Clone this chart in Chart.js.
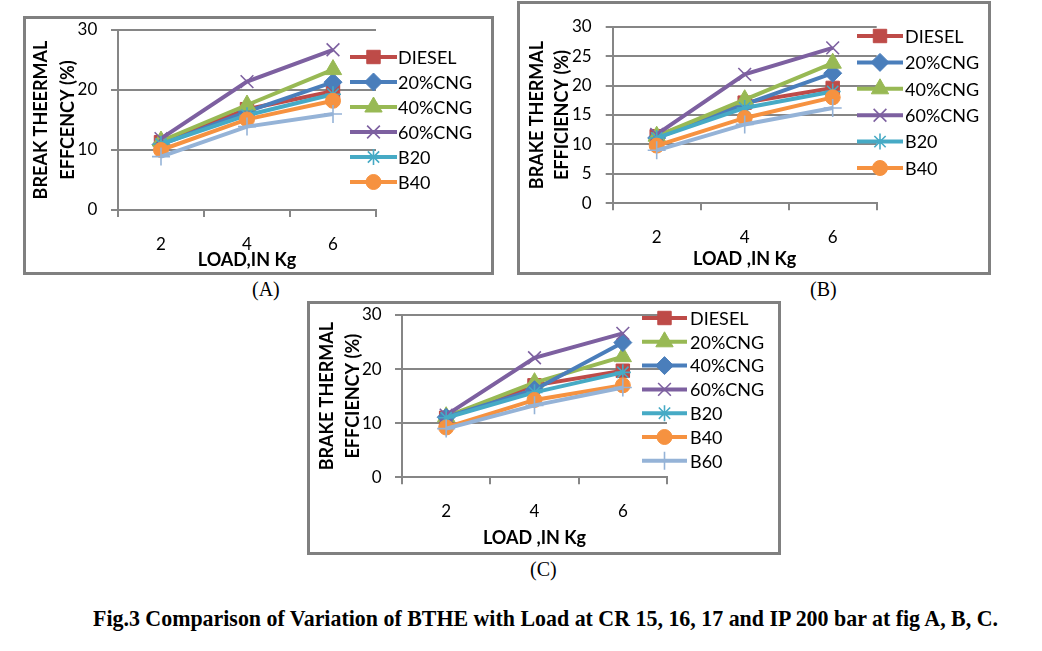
<!DOCTYPE html>
<html><head><meta charset="utf-8">
<script src="https://cdn.jsdelivr.net/npm/chart.js"></script>
<style>
html,body{margin:0;padding:0;background:#fff;}
#page{position:relative;width:1042px;height:651px;overflow:hidden;background:#fff;}
.frame{position:absolute;border:3px solid #808080;box-sizing:border-box;background:#fff;}
.frame canvas{display:block;}
.lab{position:absolute;font-family:"Liberation Serif","DejaVu Serif",serif;font-size:20px;line-height:20px;color:#000;white-space:nowrap;}
#caption{position:absolute;left:93px;top:604px;font-family:"Liberation Serif","DejaVu Serif",serif;font-weight:bold;font-size:24px;line-height:28px;white-space:nowrap;transform-origin:0 0;color:#000;}
</style></head>
<body><div id="page">
<div class="frame" style="left:23px;top:16px;width:471px;height:259px"><canvas id="cA" width="465" height="253"></canvas></div>
<div class="frame" style="left:517px;top:1px;width:474px;height:274px"><canvas id="cB" width="468" height="268"></canvas></div>
<div class="frame" style="left:307px;top:301px;width:474px;height:254px"><canvas id="cC" width="468" height="248"></canvas></div>
<div class="lab" style="left:252px;top:279px">(A)</div>
<div class="lab" style="left:810px;top:279px">(B)</div>
<div class="lab" style="left:530px;top:559px">(C)</div>
<div id="caption">Fig.3 Comparison of Variation of BTHE with Load at CR 15, 16, 17 and IP 200 bar at fig A, B, C.</div>
</div>
<script>
// ---------- data ----------
const loads = ['2', '4', '6'];
const seriesNames = ['DIESEL', '20%CNG', '40%CNG', '60%CNG', 'B20', 'B40', 'B60'];

// Fig A (CR 15)
const dieselA = [11.3, 16.8, 19.8];
const cng20A  = [10.9, 16.4, 21.3];
const cng40A  = [11.5, 17.5, 23.4];
const cng60A  = [11.9, 21.4, 26.7];
const b20A    = [11.0, 15.8, 19.3];
const b40A    = [10.0, 15.1, 18.2];
const b60A    = [8.9, 13.9, 16.0];

// Fig B (CR 16)
const dieselB = [11.4, 17.1, 19.6];
const cng20B  = [11.1, 16.8, 22.1];
const cng40B  = [11.4, 17.6, 23.8];
const cng60B  = [11.7, 21.9, 26.4];
const b20B    = [11.1, 16.2, 19.0];
const b40B    = [9.8, 14.5, 18.0];
const b60B    = [9.0, 13.4, 16.2];

// Fig C (CR 17)
const dieselC = [11.0, 17.0, 19.7];
const cng20C  = [11.2, 17.5, 22.3];
const cng40C  = [11.1, 16.2, 24.9];
const cng60C  = [11.5, 22.1, 26.6];
const b20C    = [11.0, 15.7, 19.4];
const b40C    = [9.2, 14.3, 17.0];
const b60C    = [9.0, 13.3, 16.6];

const yTicksA = [0, 10, 20, 30];
const yTicksB = [0, 5, 10, 15, 20, 25, 30];
const yTicksC = [0, 10, 20, 30];

// ---------- styles ----------
const colorsAB  = ['#BE4B48', '#4A7EBB', '#98B954', '#7D60A0', '#46AAC5', '#F69240', '#95B3D7'];
const markersAB = ['rect', 'rectRot', 'triangle', 'crossRot', 'star', 'circle', 'cross'];
const colorsC   = ['#BE4B48', '#98B954', '#4A7EBB', '#7D60A0', '#46AAC5', '#F69240', '#95B3D7'];
const markersC  = ['rect', 'triangle', 'rectRot', 'crossRot', 'star', 'circle', 'cross'];
const markerR = {rect: 9.5, rectRot: 9, triangle: 10, crossRot: 9, star: 8, circle: 7.5, cross: 9};
const isLineMarker = s => (s === 'cross' || s === 'crossRot' || s === 'star');
const GRAY = '#868686';
const FONT = 'Lato, "Open Sans", "Liberation Sans", sans-serif';

function drawMarker(ctx, style, r, x, y) {
  ctx.beginPath();
  const d = r * Math.SQRT1_2;
  switch (style) {
    case 'circle': ctx.arc(x, y, r, 0, Math.PI * 2); ctx.closePath(); ctx.fill(); ctx.stroke(); break;
    case 'rect': ctx.rect(x - d, y - d, 2 * d, 2 * d); ctx.fill(); ctx.stroke(); break;
    case 'rectRot': ctx.moveTo(x - r, y); ctx.lineTo(x, y - r); ctx.lineTo(x + r, y); ctx.lineTo(x, y + r); ctx.closePath(); ctx.fill(); ctx.stroke(); break;
    case 'triangle':
      for (let k = 0; k < 3; k++) { const a = k * 2 * Math.PI / 3; const px = x + Math.sin(a) * r, py = y - Math.cos(a) * r; k ? ctx.lineTo(px, py) : ctx.moveTo(px, py); }
      ctx.closePath(); ctx.fill(); ctx.stroke(); break;
    case 'cross': ctx.moveTo(x, y - r); ctx.lineTo(x, y + r); ctx.moveTo(x - r, y); ctx.lineTo(x + r, y); ctx.stroke(); break;
    case 'crossRot': ctx.moveTo(x - d, y - d); ctx.lineTo(x + d, y + d); ctx.moveTo(x - d, y + d); ctx.lineTo(x + d, y - d); ctx.stroke(); break;
    case 'star':
      ctx.moveTo(x, y - r); ctx.lineTo(x, y + r); ctx.moveTo(x - r, y); ctx.lineTo(x + r, y);
      ctx.moveTo(x - d, y - d); ctx.lineTo(x + d, y + d); ctx.moveTo(x - d, y + d); ctx.lineTo(x + d, y - d); ctx.stroke(); break;
  }
}

function legendPlugin(cfg) {
  return {
    id: 'customLegend',
    afterDraw(chart) {
      const ctx = chart.ctx;
      ctx.save();
      chart.data.datasets.slice(0, cfg.count).forEach((ds, i) => {
        const y = cfg.y0 + i * cfg.dy;
        ctx.strokeStyle = ds.borderColor; ctx.lineWidth = 4; ctx.lineCap = 'butt';
        ctx.beginPath(); ctx.moveTo(cfg.x0, y); ctx.lineTo(cfg.x0 + cfg.len, y); ctx.stroke();
        ctx.fillStyle = ds.borderColor; ctx.lineWidth = ds.pointBorderWidth;
        drawMarker(ctx, ds.pointStyle, ds.pointRadius, cfg.x0 + cfg.len / 2, y);
        ctx.fillStyle = '#000';
        ctx.font = '18px ' + FONT;
        ctx.textAlign = 'left'; ctx.textBaseline = 'middle';
        ctx.fillText(ds.label, cfg.textX, y + 1);
      });
      ctx.restore();
    }
  };
}

function makeChart(id, series, colors, markers, yTicks, g) {
  const n = series.length;
  const datasets = series.map((vals, i) => ({
    label: seriesNames[i],
    data: vals,
    borderColor: colors[i],
    backgroundColor: colors[i],
    borderWidth: 4,
    pointStyle: markers[i],
    pointRadius: markerR[markers[i]],
    pointHoverRadius: markerR[markers[i]],
    pointBackgroundColor: colors[i],
    pointBorderColor: colors[i],
    pointBorderWidth: isLineMarker(markers[i]) ? 1.6 : 1,
    tension: 0,
    fill: false,
    order: n - i
  }));
  return new Chart(document.getElementById(id), {
    type: 'line',
    data: {labels: loads, datasets},
    options: {
      responsive: false, animation: false, devicePixelRatio: 1, events: [],
      layout: {padding: {left: 0, top: g.top, right: g.right, bottom: 0}},
      plugins: {legend: {display: false}, tooltip: {enabled: false}},
      scales: {
        x: {
          type: 'category', offset: true,
          grid: {display: true, offset: true, drawOnChartArea: false, drawTicks: true, tickLength: 7, color: GRAY, lineWidth: 2},
          border: {display: true, color: GRAY, width: 2},
          ticks: {color: '#000', font: {family: FONT, size: 17}, padding: g.xPad, maxRotation: 0, autoSkip: false},
          title: {display: true, text: g.xTitle, color: '#000', font: {family: FONT, size: 18, weight: 'bold', lineHeight: 1.2}, padding: {top: 0, bottom: g.xtPad}},
          afterFit: s => { s.height = g.xH; s.paddingLeft = 0; s.paddingRight = 0; }
        },
        y: {
          min: 0, max: 30,
          afterBuildTicks: s => { s.ticks = yTicks.map(v => ({value: v})); },
          grid: {color: GRAY, lineWidth: 2, drawTicks: true, tickLength: 7},
          border: {display: true, color: GRAY, width: 2},
          ticks: {color: '#000', font: {family: FONT, size: 17}, padding: g.yPad},
          title: {display: true, text: g.yTitle, color: '#000', font: {family: FONT, size: 18, weight: 'bold', lineHeight: g.yLH}, padding: {top: g.ytPad, bottom: 0}},
          afterFit: s => { s.width = g.yW; s.paddingTop = 0; s.paddingBottom = 0; }
        }
      }
    },
    plugins: [legendPlugin(g.legend)]
  });
}

makeChart('cA', [dieselA, cng20A, cng40A, cng60A, b20A, b40A, b60A], colorsAB, markersAB, yTicksA, {
  top: 11, right: 115, xH: 62, yW: 92, xPad: 17.8, xtPad: 1.2, yPad: 13.7, ytPad: 2.3, yLH: 26.7 / 18,
  xTitle: 'LOAD,IN Kg', yTitle: ['BREAK THEERMAL', 'EFFCENCY (%)'],
  legend: {count: 6, x0: 324, len: 47, textX: 372, y0: 38, dy: 25}
});
makeChart('cB', [dieselB, cng20B, cng40B, cng60B, b20B, b40B, b60B], colorsAB, markersAB, yTicksB, {
  top: 22.7, right: 111.3, xH: 68.7, yW: 92.7, xPad: 17.5, xtPad: 2.2, yPad: 14, ytPad: 4.2, yLH: 25 / 18,
  xTitle: 'LOAD ,IN Kg', yTitle: ['BRAKE THERMAL', 'EFFICIENCY (%)'],
  legend: {count: 6, x0: 337, len: 46, textX: 385, y0: 32, dy: 26.4}
});
makeChart('cC', [dieselC, cng20C, cng40C, cng60C, b20C, b40C, b60C], colorsC, markersC, yTicksC, {
  top: 10, right: 111, xH: 74.7, yW: 92, xPad: 17.2, xtPad: 2.9, yPad: 13.3, ytPad: 3.4, yLH: 26.7 / 18,
  xTitle: 'LOAD ,IN Kg', yTitle: ['BRAKE THERMAL', 'EFFCIENCY (%)'],
  legend: {count: 7, x0: 332, len: 45, textX: 380, y0: 14, dy: 23.8}
});

// fit caption to its measured width in the reference
(function(){
  const cap = document.getElementById('caption');
  const w = cap.getBoundingClientRect().width;
  cap.style.transform = 'scaleX(' + (905 / w) + ')';
})();
</script>
</body></html>
